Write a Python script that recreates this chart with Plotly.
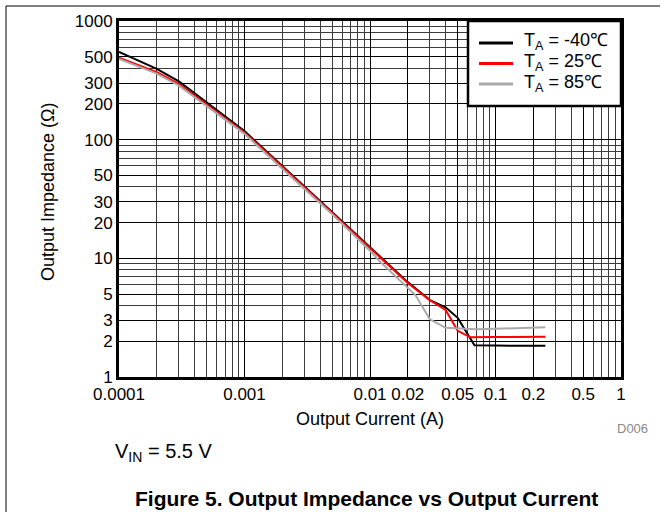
import plotly.graph_objects as go

# ---------------- data ----------------
current_m40 = [0.0001, 0.0002, 0.0003, 0.0005, 0.001, 0.002, 0.005, 0.01, 0.02, 0.03, 0.04, 0.05, 0.06, 0.068, 0.1, 0.25]
imped_m40   = [550, 395, 310, 205, 118, 60, 24.6, 12.4, 6.3, 4.45, 3.87, 3.15, 2.3, 1.85, 1.84, 1.83]

current_25 = [0.0001, 0.0002, 0.0003, 0.0005, 0.001, 0.002, 0.005, 0.01, 0.02, 0.03, 0.04, 0.05, 0.063, 0.1, 0.25]
imped_25   = [490, 370, 295, 198, 115, 59, 24.2, 12.3, 6.2, 4.45, 3.67, 2.45, 2.16, 2.17, 2.18]

current_85 = [0.0001, 0.0002, 0.0003, 0.0005, 0.001, 0.002, 0.005, 0.01, 0.012, 0.023, 0.03, 0.04, 0.07, 0.1, 0.25]
imped_85   = [480, 360, 285, 192, 112, 57, 23.5, 11.6, 9.4, 4.9, 3.06, 2.6, 2.52, 2.55, 2.62]

series_names = ["T<sub>A</sub> = -40\u2103", "T<sub>A</sub> = 25\u2103", "T<sub>A</sub> = 85\u2103"]
series_colors = ["#000000", "#ff0000", "#aaaaaa"]

x_tick_vals = [0.0001, 0.001, 0.01, 0.02, 0.05, 0.1, 0.2, 0.5, 1]
x_tick_text = ["0.0001", "0.001", "0.01", "0.02", "0.05", "0.1", "0.2", "0.5", "1"]
y_tick_vals = [1, 2, 3, 5, 10, 20, 30, 50, 100, 200, 300, 500, 1000]
y_tick_text = ["1", "2", "3", "5", "10", "20", "30", "50", "100", "200", "300", "500", "1000"]

x_minor = [m * 10 ** e for e in range(-4, 0) for m in range(2, 10)]
y_minor = [m * 10 ** e for e in range(0, 3) for m in range(2, 10)]

# ---------------- layout geometry ----------------
W, H = 671, 512
L, R, T, B = 119, 621, 21, 377
PW, PH = R - L, B - T


def px(x):
    return (x - L) / PW


def py(y):
    return (B - y) / PH


FONT = "Liberation Sans, Arial, sans-serif"

fig = go.Figure()
for xs, ys, name, col in zip([current_m40, current_25, current_85],
                             [imped_m40, imped_25, imped_85],
                             series_names, series_colors):
    fig.add_trace(go.Scatter(x=xs, y=ys, mode="lines", name=name, showlegend=False,
                             line=dict(color=col, width=2)))

axis_common = dict(
    type="log", showline=True, linecolor="black", linewidth=3, mirror=True,
    showgrid=True, gridcolor="#000000", gridwidth=1, ticks="", zeroline=False,
    tickfont=dict(family=FONT, size=17, color="black"),
)

fig.update_xaxes(
    **axis_common,
    range=[-4, 0], tickvals=x_tick_vals, ticktext=x_tick_text, tickangle=0,
    minor=dict(tickvals=x_minor, showgrid=True, gridcolor="#3c3c3c", gridwidth=1, ticks=""),
)
fig.update_yaxes(
    **axis_common,
    range=[0, 3], tickvals=y_tick_vals, ticktext=y_tick_text,
    minor=dict(tickvals=y_minor, showgrid=True, gridcolor="#3c3c3c", gridwidth=1, ticks=""),
)

annotations = [
    dict(text="Output Current (A)", x=px(370), y=py(419), xref="paper", yref="paper",
         showarrow=False, xanchor="center", yanchor="middle",
         font=dict(family=FONT, size=18, color="black")),
    dict(text="Output Impedance (\u03a9)", x=px(48), y=py(192), xref="paper", yref="paper",
         showarrow=False, xanchor="center", yanchor="middle", textangle=-90,
         font=dict(family=FONT, size=18, color="black")),
    dict(text="D006", x=px(632), y=py(428), xref="paper", yref="paper",
         showarrow=False, xanchor="center", yanchor="middle",
         font=dict(family=FONT, size=13, color="#888888")),
    dict(text="V<sub>IN</sub> = 5.5 V", x=px(113), y=py(452), xref="paper", yref="paper",
         showarrow=False, xanchor="left", yanchor="middle",
         font=dict(family=FONT, size=20, color="black")),
    dict(text="<b>Figure 5. Output Impedance vs Output Current</b>", x=px(366), y=py(498),
         xref="paper", yref="paper", showarrow=False, xanchor="center", yanchor="middle",
         font=dict(family=FONT, size=21, color="black")),
]

shapes = [
    dict(type="line", xref="paper", yref="paper", x0=px(6), x1=px(660), y0=py(6), y1=py(6),
         line=dict(color="black", width=1)),
    dict(type="line", xref="paper", yref="paper", x0=px(6), x1=px(6), y0=py(6), y1=py(512),
         line=dict(color="black", width=1)),
    # legend box
    dict(type="rect", xref="paper", yref="paper", x0=px(468), x1=px(621), y0=py(106), y1=py(21),
         line=dict(color="black", width=2.5), fillcolor="white", layer="above"),
]

legend_rows_y = [43, 63.5, 84]
for name, col, ly in zip(series_names, series_colors, legend_rows_y):
    shapes.append(dict(type="line", xref="paper", yref="paper", x0=px(479), x1=px(513),
                       y0=py(ly), y1=py(ly), line=dict(color=col, width=3), layer="above"))
    annotations.append(dict(text=name, x=px(522), y=py(ly - 1), xref="paper", yref="paper",
                            showarrow=False, xanchor="left", yanchor="middle",
                            font=dict(family=FONT, size=18, color="black")))

fig.update_layout(
    width=W, height=H, autosize=False,
    margin=dict(l=L, r=W - R, t=T, b=H - B, pad=0),
    paper_bgcolor="white", plot_bgcolor="white",
    font=dict(family=FONT, size=17, color="black"),
    showlegend=False,
    annotations=annotations, shapes=shapes,
)

fig.write_html("out.html")
